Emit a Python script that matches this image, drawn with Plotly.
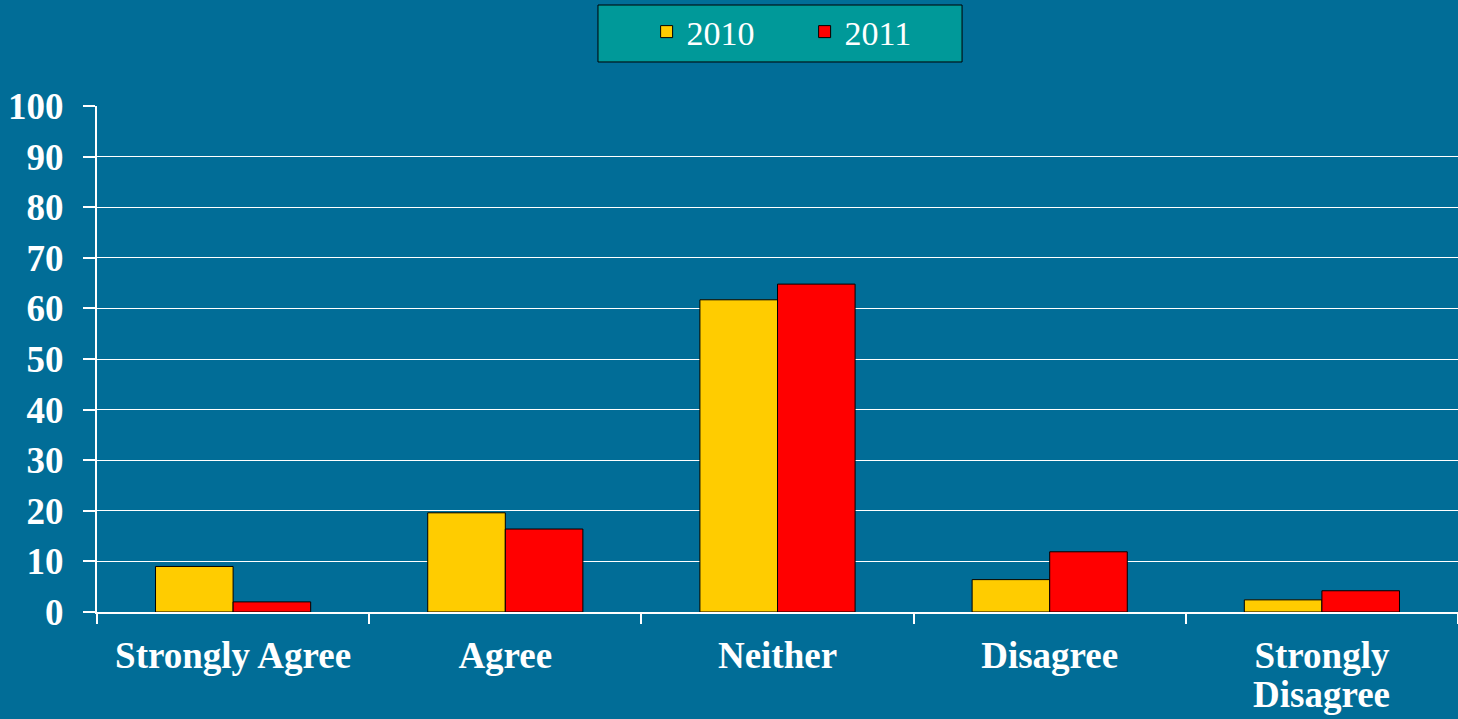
import plotly.graph_objects as go

categories = ["Strongly Agree", "Agree", "Neither", "Disagree", "Strongly Disagree"]
label_line1 = ["Strongly Agree", "Agree", "Neither", "Disagree", "Strongly"]
label_line2 = ["", "", "", "", "Disagree"]
values_2010 = [9.0, 19.6, 61.7, 6.4, 2.4]
values_2011 = [2.0, 16.4, 64.8, 11.9, 4.2]
y_ticks = [0, 10, 20, 30, 40, 50, 60, 70, 80, 90, 100]

BG = "#016D97"
FONT = "Liberation Serif"

fig = go.Figure()
fig.add_trace(go.Bar(name="2010", x=categories, y=values_2010,
                     marker=dict(color="#FFCC00", line=dict(color="black", width=1))))
fig.add_trace(go.Bar(name="2011", x=categories, y=values_2011,
                     marker=dict(color="#FF0000", line=dict(color="black", width=1))))

# second line of wrapped category labels (tight line spacing as in the original)
for cat, line2 in zip(categories, label_line2):
    if line2:
        fig.add_annotation(x=cat, y=0, xref="x", yref="y", text=line2,
                           showarrow=False, yanchor="top", yshift=-60,
                           font=dict(family=FONT, size=37, color="white", weight="bold"))

# legend frame (teal box with black border)
fig.add_shape(type="rect", xref="paper", yref="paper",
              x0=0.3681, x1=0.6356, y0=1.087, y1=1.1996,
              fillcolor="#009999", line=dict(color="black", width=1), layer="below")

fig.update_layout(
    width=1458, height=719,
    paper_bgcolor=BG, plot_bgcolor=BG,
    margin=dict(l=97, r=0, t=106, b=107),
    barmode="group", bargap=0.43, bargroupgap=0,
    font=dict(family=FONT, color="white"),
    showlegend=True,
    legend=dict(
        orientation="h", x=0.4435, xanchor="left", xref="container",
        y=0.9958, yanchor="top", yref="container",
        bgcolor="rgba(0,0,0,0)", borderwidth=0,
        font=dict(family=FONT, size=34, color="white"),
        entrywidth=113, entrywidthmode="pixels",
    ),
)
fig.update_yaxes(
    range=[0, 100], tickvals=y_ticks, automargin=False,
    showgrid=True, gridcolor="white", gridwidth=1,
    showline=True, linecolor="white", linewidth=2,
    ticks="outside", ticklen=12, tickcolor="white", tickwidth=2,
    ticklabelstandoff=12,
    tickfont=dict(family=FONT, size=37, color="white", weight="bold"),
    zeroline=False,
)
fig.update_xaxes(
    automargin=False,
    tickmode="array", tickvals=categories, ticktext=label_line1,
    showline=True, linecolor="white", linewidth=2,
    ticks="outside", ticklen=10, tickcolor="white", tickwidth=2,
    tickson="boundaries", ticklabelstandoff=10,
    tickfont=dict(family=FONT, size=37, color="white", weight="bold"),
)

fig.write_html("out.html", config={"displayModeBar": False},
               post_script="document.body.style.margin='0';document.body.style.overflow='hidden';")
